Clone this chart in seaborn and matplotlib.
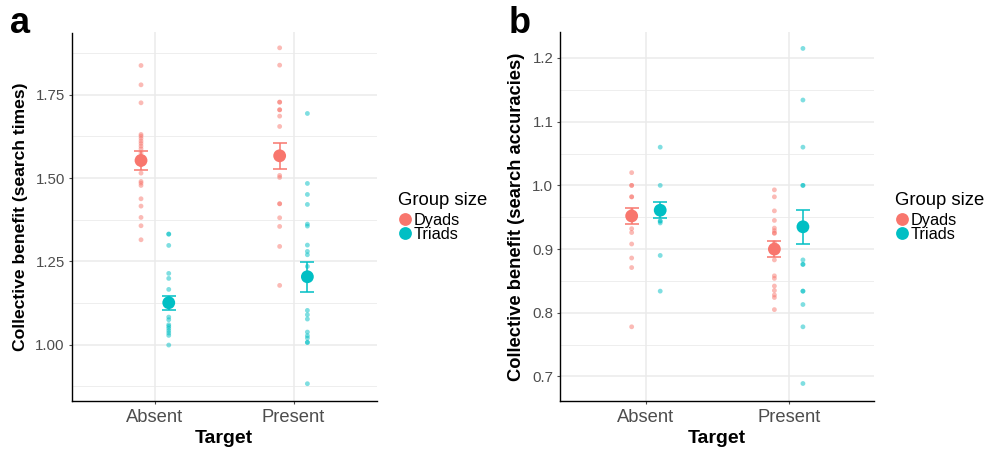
import numpy as np
import pandas as pd
import matplotlib
matplotlib.use("Agg")
import matplotlib.pyplot as plt
import seaborn as sns

# ---------------- data ----------------
targets = ["Absent", "Present"]
groups = ["Dyads", "Triads"]
palette = {"Dyads": "#F8766D", "Triads": "#00BFC4"}

# Panel a: collective benefit (search times), individual groups
a_abs_dyads = [1.838, 1.780, 1.726, 1.631, 1.626, 1.619, 1.611, 1.604, 1.596, 1.588,
               1.575, 1.560, 1.540, 1.515, 1.490, 1.485, 1.478, 1.438, 1.416, 1.382,
               1.357, 1.315]
a_abs_triads = [1.332, 1.332, 1.298, 1.214, 1.199, 1.166, 1.140, 1.125, 1.083, 1.075,
                1.060, 1.055, 1.049, 1.042, 1.035, 1.028, 0.999]
a_pre_dyads = [1.891, 1.839, 1.728, 1.728, 1.705, 1.705, 1.686, 1.655, 1.508, 1.502,
               1.423, 1.423, 1.381, 1.355, 1.295, 1.178]
a_pre_triads = [1.694, 1.484, 1.451, 1.421, 1.362, 1.356, 1.299, 1.280, 1.270, 1.235,
                1.215, 1.103, 1.090, 1.077, 1.038, 1.027, 1.020, 1.007, 1.007, 0.883]
# means and standard errors (Absent-Dyads, Absent-Triads, Present-Dyads, Present-Triads)
a_means = [1.553, 1.126, 1.567, 1.204]
a_se = [0.029, 0.021, 0.039, 0.045]

# Panel b: collective benefit (search accuracies)
b_abs_dyads = [1.020, 1.000, 1.000, 0.982, 0.982, 0.960, 0.950, 0.932, 0.926, 0.908,
               0.886, 0.871, 0.778]
b_abs_triads = [1.060, 1.000, 0.961, 0.944, 0.944, 0.941, 0.890, 0.834]
b_pre_dyads = [0.993, 0.982, 0.960, 0.945, 0.933, 0.929, 0.925, 0.925, 0.910, 0.883,
               0.858, 0.854, 0.842, 0.835, 0.828, 0.824, 0.805]
b_pre_triads = [1.215, 1.134, 1.060, 1.000, 1.000, 0.883, 0.876, 0.876, 0.834, 0.834,
                0.813, 0.778, 0.689]
b_means = [0.952, 0.961, 0.900, 0.935]
b_se = [0.0125, 0.0125, 0.0125, 0.027]

a_yticks = [1.00, 1.25, 1.50, 1.75]
a_ytick_labels = ["1.00", "1.25", "1.50", "1.75"]
b_yticks = [0.7, 0.8, 0.9, 1.0, 1.1, 1.2]
b_ytick_labels = ["0.7", "0.8", "0.9", "1.0", "1.1", "1.2"]

# --------------- helpers ---------------
code = {t: i for i, t in enumerate(targets)}
dodge = {"Dyads": -0.1, "Triads": 0.1}


def long_points(lists):
    rows = []
    for (t, g), vals in lists.items():
        for v in vals:
            rows.append({"Target": t, "Group size": g, "value": v})
    df = pd.DataFrame(rows)
    df["x"] = df["Target"].map(code) + df["Group size"].map(dodge)
    return df


def summary(means, ses):
    keys = [("Absent", "Dyads"), ("Absent", "Triads"), ("Present", "Dyads"), ("Present", "Triads")]
    df = pd.DataFrame({"Target": [k[0] for k in keys], "Group size": [k[1] for k in keys],
                       "mean": means, "se": ses})
    df["x"] = df["Target"].map(code) + df["Group size"].map(dodge)
    return df


sns.set_theme(style="white")
plt.rcParams["font.family"] = ["Liberation Sans", "DejaVu Sans"]
plt.rcParams["text.color"] = "black"

fig = plt.figure(figsize=(9.87, 4.49), dpi=100)
W, H = 987, 449
ax_a = fig.add_axes([71.7 / W, (H - 400.7) / H, (376.7 - 71.7) / W, (400.7 - 32.5) / H])
ax_b = fig.add_axes([560.3 / W, (H - 400.7) / H, (874.3 - 560.3) / W, (400.7 - 32.5) / H])

grid_c = "#EBEBEB"


def draw(ax, pts, summ, ylim, yticks, yticklabels, minor, ylabel, ylabel_size, legend_x):
    # grid
    for y in yticks:
        ax.axhline(y, color=grid_c, lw=1.1, zorder=0)
    for y in minor:
        ax.axhline(y, color=grid_c, lw=0.6, zorder=0)
    for x in range(len(targets)):
        ax.axvline(x, color=grid_c, lw=1.1, zorder=0)

    sns.scatterplot(data=pts, x="x", y="value", hue="Group size", hue_order=groups,
                    palette=palette, s=12, alpha=0.5, linewidth=0, legend=False,
                    ax=ax, zorder=2)
    for g in groups:
        sub = summ[summ["Group size"] == g]
        ax.errorbar(sub["x"], sub["mean"], yerr=sub["se"], fmt="none",
                    ecolor=palette[g], elinewidth=1.1, capsize=5.0, capthick=1.1, zorder=3)
    sns.scatterplot(data=summ, x="x", y="mean", hue="Group size", hue_order=groups,
                    palette=palette, s=85, linewidth=0, ax=ax, zorder=4)

    ax.set_xlim(-0.6, 1.6)
    ax.set_ylim(*ylim)
    ax.set_xticks(range(len(targets)))
    ax.set_xticklabels(targets)
    ax.set_yticks(yticks)
    ax.set_yticklabels(yticklabels)
    ax.tick_params(axis="x", labelsize=13.2, colors="#4D4D4D", length=2.5, width=0.8, pad=3.2,
                   bottom=True)
    ax.tick_params(axis="y", labelsize=10.8, colors="#4D4D4D", length=2.5, width=0.8, pad=2.5,
                   left=True)
    for lab in ax.get_xticklabels() + ax.get_yticklabels():
        lab.set_color("#4D4D4D")
    ax.set_xlabel("Target", fontsize=14, fontweight="bold", color="black", labelpad=3.5)
    ax.set_ylabel(ylabel, fontsize=ylabel_size, fontweight="bold", color="black", labelpad=5)
    for s in ["top", "right"]:
        ax.spines[s].set_visible(False)
    for s in ["left", "bottom"]:
        ax.spines[s].set_color("black")
        ax.spines[s].set_linewidth(1.0)
    ax.grid(False)

    leg = ax.legend(title="Group size", loc="upper left",
                    bbox_to_anchor=(legend_x / W, (H - 192) / H),
                    bbox_transform=fig.transFigure, frameon=False, fontsize=11.8,
                    title_fontsize=13.3, handletextpad=0.05, handlelength=0.9,
                    labelspacing=-0.1, borderpad=0, borderaxespad=0, alignment="left")
    leg._legend_box.sep = 3.0  # gap between title and entries (points)
    for t in leg.get_texts():
        t.set_color("black")
    leg.get_title().set_color("black")
    return leg


pts_a = long_points({("Absent", "Dyads"): a_abs_dyads, ("Absent", "Triads"): a_abs_triads,
                     ("Present", "Dyads"): a_pre_dyads, ("Present", "Triads"): a_pre_triads})
pts_b = long_points({("Absent", "Dyads"): b_abs_dyads, ("Absent", "Triads"): b_abs_triads,
                     ("Present", "Dyads"): b_pre_dyads, ("Present", "Triads"): b_pre_triads})

draw(ax_a, pts_a, summary(a_means, a_se), (0.832, 1.937), a_yticks, a_ytick_labels,
     [0.875, 1.125, 1.375, 1.625, 1.875], "Collective benefit (search times)", 12.6, 398)
draw(ax_b, pts_b, summary(b_means, b_se), (0.662, 1.240), b_yticks, b_ytick_labels,
     [0.75, 0.85, 0.95, 1.05, 1.15], "Collective benefit (search accuracies)", 13.2, 895)

fig.text(10 / W, (H - 33) / H, "a", fontsize=26, fontweight="bold", va="baseline", color="black")
fig.text(509 / W, (H - 33) / H, "b", fontsize=26, fontweight="bold", va="baseline", color="black")

fig.savefig("out.png", dpi=100)
